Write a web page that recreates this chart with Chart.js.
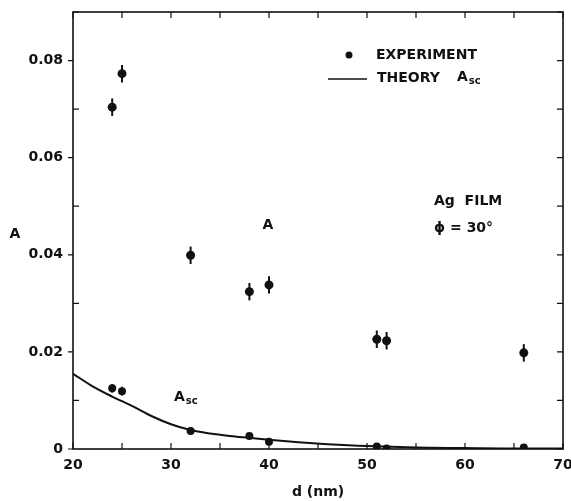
<!DOCTYPE html>
<html>
<head>
<meta charset="utf-8">
<script src="https://cdn.jsdelivr.net/npm/chart.js@4/dist/chart.umd.min.js"></script>
<style>
  html, body { margin: 0; padding: 0; background: #fff; }
  canvas { display: block; }
</style>
</head>
<body>
<canvas id="c" width="571" height="501"></canvas>
<script>
// ---- data ----
const thickness = [24, 25, 32, 38, 40, 51, 52, 66];               // d (nm)
const absorptionA = [0.0704, 0.0773, 0.0399, 0.0324, 0.0338, 0.0226, 0.0223, 0.0198];
const errorA = [0.0018, 0.0018, 0.0018, 0.0018, 0.0018, 0.0018, 0.0018, 0.0018];
const absorptionAsc = [0.0125, 0.0119, 0.0037, 0.0027, 0.0015, 0.0005, 0.0001, 0.0003];
const errorAsc = [0.0009, 0.0009, 0, 0, 0, 0, 0, 0];
const theoryD = [20, 22, 24, 26, 28, 30, 32, 34, 36, 38, 40, 43, 46, 50, 55, 60, 65, 70];
const theoryAsc = [0.0155, 0.0129, 0.0108, 0.0089, 0.0068, 0.0051, 0.0039, 0.0032, 0.0027, 0.0023, 0.0019, 0.0014, 0.0010, 0.0006, 0.0003, 0.0002, 0.0001, 0.0001];
const xTickLabels = ['20', '30', '40', '50', '60', '70'];
const yTickLabels = ['0', '0.02', '0.04', '0.06', '0.08'];

const FONT = 'DejaVu Sans';
Chart.defaults.font.family = FONT;
Chart.defaults.font.size = 14;
Chart.defaults.font.weight = 'bold';
Chart.defaults.color = '#111';

const toPts = (xs, ys) => xs.map((x, i) => ({ x: x, y: ys[i] }));

function drawSub(ctx, x, y, main, sub, size) {
  ctx.font = 'bold ' + size + 'px ' + FONT;
  ctx.textAlign = 'left';
  ctx.textBaseline = 'middle';
  ctx.fillText(main, x, y);
  const w = ctx.measureText(main).width;
  ctx.font = 'bold ' + Math.round(size * 0.72) + 'px ' + FONT;
  ctx.fillText(sub, x + w + 1, y + size * 0.35);
}

const decor = {
  id: 'decor',
  afterDatasetsDraw(chart) {
    const ctx = chart.ctx;
    const xs = chart.scales.x, ys = chart.scales.y;
    const a = chart.chartArea;
    ctx.save();
    ctx.strokeStyle = '#111';
    ctx.fillStyle = '#111';
    // error bars
    ctx.lineWidth = 2;
    const bars = (vals, errs) => {
      thickness.forEach((d, i) => {
        if (!errs[i]) return;
        const px = xs.getPixelForValue(d);
        ctx.beginPath();
        ctx.moveTo(px, ys.getPixelForValue(vals[i] - errs[i]));
        ctx.lineTo(px, ys.getPixelForValue(vals[i] + errs[i]));
        ctx.stroke();
      });
    };
    bars(absorptionA, errorA);
    bars(absorptionAsc, errorAsc);
    // frame
    ctx.lineWidth = 1.6;
    ctx.strokeRect(a.left, a.top, a.right - a.left, a.bottom - a.top);
    // ticks
    ctx.lineWidth = 1.2;
    const tl = 6;
    xs.ticks.forEach(t => {
      const px = xs.getPixelForValue(t.value);
      ctx.beginPath();
      ctx.moveTo(px, a.bottom); ctx.lineTo(px, a.bottom - tl);
      ctx.moveTo(px, a.top); ctx.lineTo(px, a.top + tl);
      ctx.stroke();
    });
    ys.ticks.forEach(t => {
      const py = ys.getPixelForValue(t.value);
      const major = Math.round(t.value * 100) % 2 === 0;
      ctx.beginPath();
      if (major) { ctx.moveTo(a.left - 5, py); ctx.lineTo(a.left, py); }
      else { ctx.moveTo(a.left, py); ctx.lineTo(a.left + tl, py); }
      ctx.moveTo(a.right, py); ctx.lineTo(a.right - tl, py);
      ctx.stroke();
    });
    // axis titles
    ctx.font = 'bold 14px ' + FONT;
    ctx.textBaseline = 'middle';
    ctx.textAlign = 'center';
    ctx.fillText('A', 15, 234);
    ctx.fillText('d (nm)', 318, 492);
    // annotations
    ctx.fillText('A', 268, 225);
    drawSub(ctx, 174, 397, 'A', 'sc', 14);
    ctx.textAlign = 'left';
    ctx.font = 'bold 14px ' + FONT;
    ctx.fillText('Ag  FILM', 434, 201);
    ctx.fillText('\u03D5 = 30\u00B0', 434, 228);
    // legend
    ctx.beginPath();
    ctx.arc(349, 55, 3.5, 0, Math.PI * 2);
    ctx.fill();
    ctx.fillText('EXPERIMENT', 376, 55);
    ctx.lineWidth = 1.5;
    ctx.beginPath();
    ctx.moveTo(328, 79); ctx.lineTo(367, 79);
    ctx.stroke();
    ctx.font = 'bold 14px ' + FONT;
    ctx.fillText('THEORY', 377, 78);
    drawSub(ctx, 457, 77, 'A', 'sc', 14);
    ctx.restore();
  }
};

new Chart(document.getElementById('c'), {
  type: 'scatter',
  data: {
    datasets: [
      { label: 'A', data: toPts(thickness, absorptionA), pointRadius: 4.5, backgroundColor: '#111', borderColor: '#111', pointBorderWidth: 0 },
      { label: 'Asc', data: toPts(thickness, absorptionAsc), pointRadius: 4, backgroundColor: '#111', borderColor: '#111', pointBorderWidth: 0 },
      { label: 'Theory Asc', data: toPts(theoryD, theoryAsc), showLine: true, pointRadius: 0, borderColor: '#111', borderWidth: 2, cubicInterpolationMode: 'monotone', fill: false }
    ]
  },
  options: {
    responsive: false,
    animation: false,
    events: [],
    layout: { padding: { top: 12, right: 8, left: 0, bottom: 0 } },
    plugins: { legend: { display: false }, tooltip: { enabled: false } },
    scales: {
      x: {
        type: 'linear', min: 20, max: 70,
        grid: { display: false, tickLength: 6 }, border: { display: false },
        ticks: {
          stepSize: 5, padding: 2, maxRotation: 0, autoSkip: false,
          callback: v => (v % 10 === 0 ? xTickLabels[(v - 20) / 10] : '')
        },
        afterFit: s => { s.height = 52; s.paddingLeft = 0; s.paddingRight = 0; }
      },
      y: {
        min: 0, max: 0.09,
        grid: { display: false, tickLength: 6 }, border: { display: false },
        ticks: {
          stepSize: 0.01, padding: 4, autoSkip: false,
          callback: v => {
            const r = Math.round(v * 100);
            return (r % 2 === 0 && r <= 8) ? yTickLabels[r / 2] : '';
          }
        },
        afterFit: s => { s.width = 73; s.paddingTop = 0; s.paddingBottom = 0; }
      }
    }
  },
  plugins: [decor]
});
</script>
</body>
</html>
